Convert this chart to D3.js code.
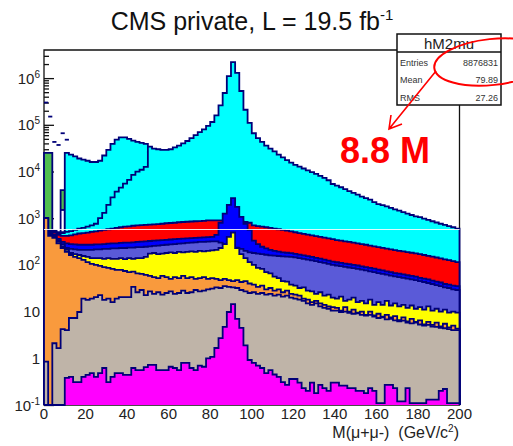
<!DOCTYPE html>
<html><head><meta charset="utf-8">
<script src="https://cdn.jsdelivr.net/npm/d3@7"></script>
<style>
body{margin:0;background:#fff}
svg{display:block;font-family:"Liberation Sans",Arial,sans-serif}
</style>
</head><body>
<svg id="c" width="513" height="446"></svg>
<script>
// ---------------- data (cumulative stack levels per 2 GeV bin, 0-200 GeV) ----------------
const binWidth = 2;
const massRange = [0, 200];

const levelMagenta = [
 0,0,0,0,0, 0.38,0.40,0.31,0.31,0.40,
 0.44,0.48,0.40,0.48,0.62,0.31,0.40,0.48,0.48,0.44,
 0.44,0.62,0.56,0.56,0.65,0.72,0.72,0.56,0.56,0.56,
 0.66,0.62,0.56,0.80,0.80,0.62,0.56,0.70,0.66,1.0,
 1.07,1.66,2.7,4.7,9.8,14.5,7.0,4.5,1.9,0.92,
 0.8,0.7,0.62,0.48,0.56,0.45,0.40,0.31,0.27,0.36,
 0.36,0.30,0.23,0.20,0.30,0.18,0.27,0.23,0.20,0.30,
 0.30,0.26,0.26,0.23,0.23,0.20,0.20,0.18,0.23,0.20,
 0.11,0.11,0.27,0.27,0.23,0.12,0.12,0.23,0.11,0.11,
 0.11,0.11,0.13,0.13,0.13,0.20,0.22,0.11,0.11,0.11];

const levelGray = [
 0.85,0,2.1,1.65,4.2,4.0,7.3,7.3,9.8,19,
 17.8,19,20.5,22.6,17.8,19,16,19,20.5,20.5,
 20.5,34,26,29,22.6,27,24,26,23,25,
 27,24,25,28,25,26,29,27,28,30,
 31,33,32,35,34,33,32,29,27,25,
 26,24,25,23,24,22,23,21,22,20,
 19,18,17,15,14,15,13,12,11.5,10.5,
 10.5,9.8,10,9.4,9,9.2,8.5,8.2,8.5,7.8,
 7.3,7.5,6.8,7,6.5,6.2,6.4,5.8,5.6,5.8,
 5.3,5.0,5.2,4.8,4.7,4.5,4.4,4.2,4.0,4.0];

const levelOrange = [
 1000,420,380,290,230,190,163,148,140,128,
 115,105,100,95,90,86,82,78,78,74,
 70,72,66,64,61,58,55,52,58,55,
 50,55,52,58,52,55,50,52,55,50,
 52,50,47,50,47,45,47,43,45,40,
 38,34,36,30,32,28,30,26,28,24,
 23,22,19,18,16,17,15,14,13,12.5,
 12,10.5,12.5,10,11,9.5,10,8.5,10,8.3,
 9,7.8,8.5,7.5,8,6.6,7.5,6.2,7,6,
 6.5,5.3,6,5.2,5.8,4.8,5.5,4.6,5,4.3];

const levelYellow = [
 1000,440,400,310,250,210,180,170,163,155,
 148,140,140,140,135,140,135,135,140,133,
 140,135,140,140,148,175,180,170,175,180,
 185,180,190,185,190,195,190,200,195,200,
 205,210,230,280,400,490,230,170,140,115,
 100,86,82,70,66,56,52,45,44,38,
 36,32,33,28,27,24,26,22,23,20,
 19,21,17,18,20,16,17,15,18,14,
 16,14,17,13.5,15,13,14,12,13.5,11.5,
 12.5,11,13,10.5,11.5,10,11,9.5,10,9.5];

const levelSlate = [
 1000,460,420,340,280,230,220,215,210,210,
 210,210,215,215,220,220,225,225,230,230,
 235,235,240,240,245,250,255,260,265,270,
 275,280,285,290,295,300,305,310,310,315,
 320,320,300,280,400,490,235,220,200,185,
 180,175,170,165,160,158,155,152,150,148,
 145,140,135,130,125,120,115,110,105,100,
 97,94,91,88,85,82,79,76,73,70,
 67,64,62,59,57,55,53,51,49,47,
 45,43,41,39,37,35,33,32,30,29];

const levelBlue = [
 1000,480,440,360,310,290,280,275,270,270,
 270,270,275,275,280,285,290,290,295,300,
 300,305,310,315,320,325,330,335,340,345,
 350,355,360,365,370,375,380,385,390,395,
 400,440,800,1250,1930,2700,1750,1070,760,560,
 330,280,245,225,210,200,192,186,182,178,
 172,166,160,154,148,142,136,130,124,118,
 114,111,107,104,100,97,93,90,86,83,
 79,76,73,70,67,65,63,60,58,56,
 53,51,49,46,44,42,39,38,36,35];

const levelRed = [
 1000,500,490,440,420,420,430,450,470,480,
 490,510,520,540,560,580,600,620,640,660,
 670,690,700,710,720,730,740,750,760,780,
 790,800,820,830,840,850,860,870,880,900,
 900,900,900,890,880,870,860,850,830,800,
 700,680,660,640,620,600,580,560,540,520,
 500,480,460,445,430,415,400,385,370,355,
 340,330,320,310,300,290,280,270,260,250,
 240,232,224,216,208,200,194,188,182,176,
 170,163,156,150,144,138,132,126,120,115];

const levelCyan = [
 1000,520,520,480,480,510,530,560,600,620,
 660,700,760,1000,1300,1930,2800,3700,4500,5500,
 6600,8500,9900,10900,12600,34000,31000,30000,29000,29000,
 30000,33000,36000,40000,45000,52000,60000,70000,80000,95000,
 115000,160000,260000,480000,1100000,2200000,1300000,530000,210000,110000,
 66000,52000,43000,36000,31000,27000,23000,20000,17500,15500,
 13900,12700,11600,10600,9700,8900,8100,7300,6500,5400,
 5000,4600,4200,3800,3500,3200,2900,2700,2500,2200,
 2000,1900,1800,1670,1550,1450,1350,1250,1170,1100,
 1050,980,920,860,810,760,720,680,640,600];

// low-mass cyan sample, only filled below 50 GeV
const levelCyanLow = [
 1000,540,540,500,500,25000,23000,21000,19000,18000,
 17000,16000,16000,17000,22000,29000,39000,48000,54000,54000,
 50000,46000,43000,41000,39000];

const levelGreen = [25000,25000,0,0,4000];
const baseGreen  = [0,0,0,0,1500];

// unfilled low-mass bins drawn as short bars
const levelTopBars = [300000,150000,43000,37000,66000,48000];

const xTickValues = [0,20,40,60,80,100,120,140,160,180,200];
const yTickValues = [0.1,1,10,100,1000,1e4,1e5,1e6];
const yTickBase   = ["10","1","10","10","10","10","10","10"];
const yTickExp    = ["-1","","","2","3","4","5","6"];

const statTitle  = "hM2mu";
const statLabels = ["Entries","Mean","RMS"];
const statValues = ["8876831","79.89","27.26"];
const titleText = "CMS private, L = 19.5 fb";
const titleSup  = "-1";
const annotText = "8.8 M";

// ---------------- drawing ----------------
const svg = d3.select("#c");
const x = d3.scaleLinear().domain(massRange).range([44, 459.5]);
const y = d3.scaleLog().domain([0.1, 4e6]).range([405, 50]);
const yv = v => y(Math.max(v, 0.1));
const NAVY = "#000078";

// frame (drawn first, covered by fills like ROOT)
const frame = svg.append("g");
frame.append("path")
  .attr("d", `M${x(0)},${y(0.1)}V50H${x(200)}V${y(0.1)}Z`)
  .attr("fill","none").attr("stroke","#111").attr("stroke-width",1.3);

const minor = [];
for (let e = -1; e <= 6; e++) for (let k = 2; k <= 9; k++) { const v = k*Math.pow(10,e); if (v < 4e6) minor.push(v); }
frame.append("g").attr("transform",`translate(${x(0)},0)`)
  .call(d3.axisRight(y).tickValues(yTickValues).tickSize(10).tickFormat(""))
  .call(g => g.select(".domain").remove())
  .call(g => g.selectAll("line").attr("stroke","#111").attr("stroke-width",1.3));
frame.append("g").attr("transform",`translate(${x(0)},0)`)
  .call(d3.axisRight(y).tickValues(minor).tickSize(5).tickFormat(""))
  .call(g => g.select(".domain").remove())
  .call(g => g.selectAll("line").attr("stroke","#111").attr("stroke-width",1.3));
frame.append("g").attr("transform",`translate(0,${y(0.1)})`)
  .call(d3.axisTop(x).tickValues(xTickValues).tickSize(10).tickFormat(""))
  .call(g => g.select(".domain").remove());

function stepPoints(arr){
  const pts = arr.map((v,i)=>[i*binWidth, v]);
  pts.push([arr.length*binWidth, arr[arr.length-1]]);
  return pts;
}
const areaGen = base => d3.area().curve(d3.curveStepAfter)
  .x(d=>x(d[0])).y0((d,i)=>yv(base ? (base[Math.min(i,base.length-1)]||0) : 0)).y1(d=>yv(d[1]));
function outline(arr){
  const pts = [[0,0]].concat(stepPoints(arr)).concat([[arr.length*binWidth,0]]);
  return d3.line().curve(d3.curveStepAfter).x(d=>x(d[0])).y(d=>yv(d[1]))(pts);
}

const layers = [
  {top: levelGreen,   base: baseGreen, fill:"#50bd50"},
  {top: levelCyanLow, fill:"#00ffff"},
  {top: levelCyan,    fill:"#00ffff"},
  {top: levelRed,     fill:"#ff0000"},
  {top: levelBlue,    fill:"#0000ff"},
  {top: levelSlate,   fill:"#5a5ad8"},
  {top: levelYellow,  fill:"#ffff00"},
  {top: levelOrange,  fill:"#f99a3d"},
  {top: levelGray,    fill:"#bfb4a8"},
  {top: levelMagenta, fill:"#ff00ff"}
];
const hg = svg.append("g");
layers.forEach(L => {
  hg.append("path").attr("d", areaGen(L.base)(stepPoints(L.top)))
    .attr("fill", L.fill).attr("stroke","none");
  hg.append("path").attr("d", outline(L.top))
    .attr("fill","none").attr("stroke",NAVY).attr("stroke-width",1.8).attr("stroke-linejoin","miter");
  if (L.base) L.base.forEach((b,i)=>{ if (b > 0.1) hg.append("line")
      .attr("x1",x(i*binWidth)).attr("x2",x((i+1)*binWidth)).attr("y1",yv(b)).attr("y2",yv(b))
      .attr("stroke",NAVY).attr("stroke-width",1.8); });
});
hg.selectAll("line.bar").data(levelTopBars).join("line").attr("class","bar")
  .attr("x1",(d,i)=>x(i*binWidth)).attr("x2",(d,i)=>x((i+1)*binWidth))
  .attr("y1",d=>yv(d)).attr("y2",d=>yv(d))
  .attr("stroke",NAVY).attr("stroke-width",1.8);

// thin scan artifact line
svg.append("line").attr("x1",x(0)).attr("x2",x(200)).attr("y1",229.5).attr("y2",229.5)
  .attr("stroke","#fff").attr("stroke-width",1).attr("opacity",0.85);

// axis labels
const lab = svg.append("g").attr("fill","#222");
lab.selectAll("text.xl").data(xTickValues).join("text").attr("class","xl")
  .attr("x",d=>x(d)).attr("y",419).attr("text-anchor","middle").attr("font-size",15).text(d=>d);
const yl = lab.selectAll("text.yl").data(yTickValues).join("text").attr("class","yl")
  .attr("x",40).attr("y",d=>y(d)+5.5).attr("text-anchor","end").attr("font-size",15);
yl.append("tspan").text((d,i)=>yTickBase[i]);
yl.append("tspan").attr("dy",-6).attr("font-size",10).text((d,i)=>yTickExp[i]);

const xt = lab.append("text").attr("x",459).attr("y",438).attr("text-anchor","end")
  .attr("font-size",16).style("white-space","pre");
xt.append("tspan").text("M(\u03bc+\u03bc-)  (GeV/c");
xt.append("tspan").attr("dy",-6).attr("font-size",10).text("2");
xt.append("tspan").attr("dy",6).text(")");

// title
const tt = svg.append("text").attr("x",252).attr("y",30).attr("text-anchor","middle")
  .attr("font-size",25).attr("fill","#111");
tt.append("tspan").text(titleText);
tt.append("tspan").attr("dy",-10).attr("font-size",15).text(titleSup);

// stat box
const sb = svg.append("g");
sb.append("rect").attr("x",397).attr("y",34).attr("width",104).attr("height",71)
  .attr("fill","#fff").attr("stroke","#111").attr("stroke-width",1.5);
sb.append("line").attr("x1",397).attr("x2",501).attr("y1",52).attr("y2",52)
  .attr("stroke","#111").attr("stroke-width",1.5);
sb.append("text").attr("x",449).attr("y",48.5).attr("text-anchor","middle")
  .attr("font-size",15).attr("fill","#222").text(statTitle);
statLabels.forEach((s,i)=>{
  sb.append("text").attr("x",400).attr("y",65.5+i*17.5).attr("font-size",9).attr("fill","#333").text(s);
  sb.append("text").attr("x",498).attr("y",65.5+i*17.5).attr("text-anchor","end")
    .attr("font-size",9).attr("fill","#333").text(statValues[i]);
});

// red annotation
const an = svg.append("g").attr("stroke","#ff0000").attr("fill","none").attr("stroke-width",2);
an.append("ellipse").attr("cx",492).attr("cy",62).attr("rx",58).attr("ry",23)
  .attr("transform","rotate(-6 492 62)");
an.append("path").attr("d","M436,71L389,129M402,124L389,129L391,115").attr("stroke-width",1.6);
svg.append("text").attr("x",340).attr("y",163).attr("font-size",36).attr("font-weight","bold")
  .attr("fill","#ff0000").text(annotText);
</script>
</body></html>
